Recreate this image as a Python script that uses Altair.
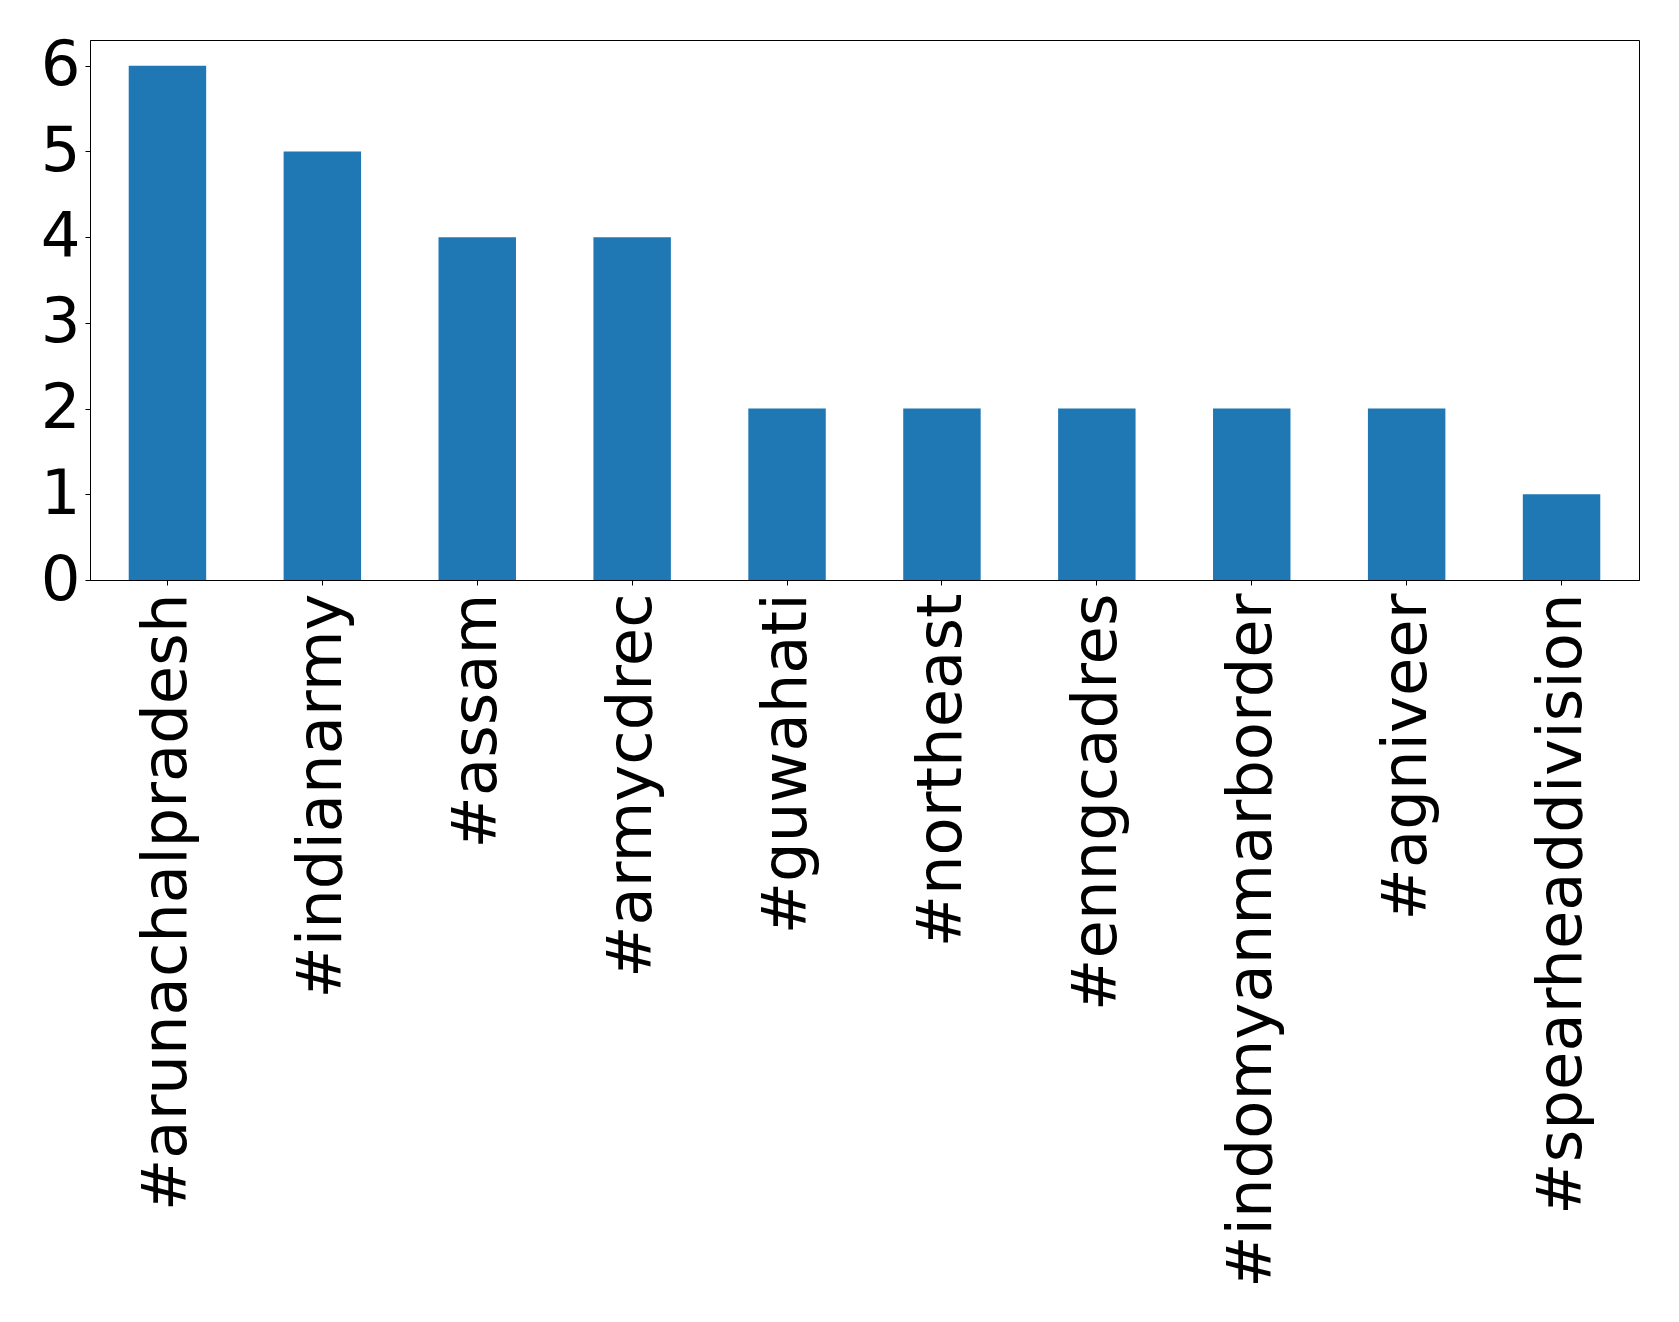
import altair as alt
import pandas as pd

tags = ["#arunachalpradesh", "#indianarmy", "#assam", "#armycdrec", "#guwahati",
        "#northeast", "#enngcadres", "#indomyanmarborder", "#agniveer", "#spearheaddivision"]
counts = [6, 5, 4, 4, 2, 2, 2, 2, 2, 1]

df = pd.DataFrame({"tag": tags, "count": counts})

FONT = "DejaVu Sans"
FS = 62.5

chart = alt.Chart(df).mark_bar(color="#1f77b4").encode(
    x=alt.X("tag:N", sort=tags, title=None,
            scale=alt.Scale(paddingInner=0.5, paddingOuter=0.25),
            axis=alt.Axis(labelAngle=270, labelFont=FONT, labelFontSize=FS,
                          labelColor="black", tickColor="black", tickSize=5,
                          labelPadding=8, domainColor="black", labelLimit=0)),
    y=alt.Y("count:Q", title=None,
            scale=alt.Scale(domain=[0, 6.3], nice=False),
            axis=alt.Axis(values=[0, 1, 2, 3, 4, 5, 6], grid=False, labelFont=FONT,
                          labelFontSize=FS, labelColor="black", tickColor="black",
                          tickSize=5, labelPadding=5, domainColor="black",
                          labelBaseline="middle")),
).properties(
    width=1549, height=540,
    autosize=alt.AutoSizeParams(type="none"),
    padding={"left": 82, "top": 32, "right": 20, "bottom": 740},
).configure_view(stroke="black", strokeWidth=1)

chart.save("out.html", embed_options={"renderer": "svg", "actions": False})
